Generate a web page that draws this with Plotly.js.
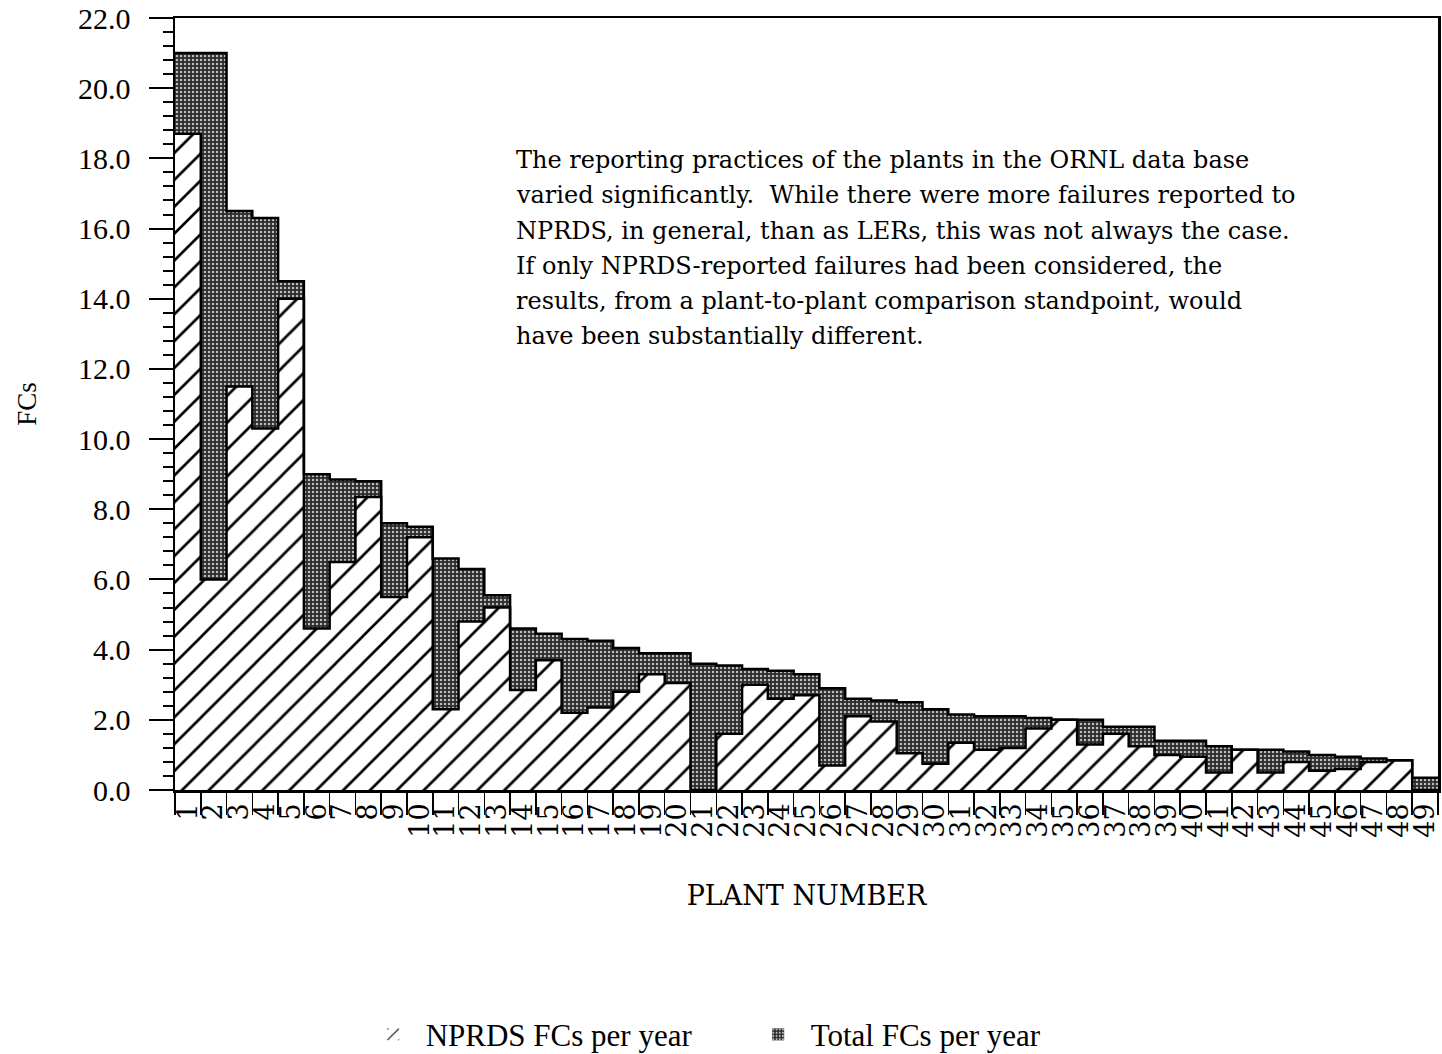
<!DOCTYPE html>
<html>
<head>
<meta charset="utf-8">
<script src="https://cdn.plot.ly/plotly-3.0.1.min.js"></script>
<style>
  html, body { margin: 0; padding: 0; background: #fff; }
  #chart { width: 1442px; height: 1054px; }
</style>
</head>
<body>
<div id="chart"></div>
<script>
// ---- Data ----
const plants = [1,2,3,4,5,6,7,8,9,10,11,12,13,14,15,16,17,18,19,20,21,22,23,24,25,
                26,27,28,29,30,31,32,33,34,35,36,37,38,39,40,41,42,43,44,45,46,47,48,49];
const totalFCs = [21.0, 21.0, 16.5, 16.3, 14.5, 9.0, 8.85, 8.8, 7.6, 7.5,
                  6.6, 6.3, 5.55, 4.6, 4.45, 4.3, 4.25, 4.05, 3.9, 3.9,
                  3.6, 3.55, 3.45, 3.4, 3.3, 2.9, 2.6, 2.55, 2.5, 2.3,
                  2.15, 2.1, 2.1, 2.05, 1.95, 2.0, 1.8, 1.8, 1.4, 1.4,
                  1.25, 1.1, 1.15, 1.1, 1.0, 0.95, 0.9, 0.85, 0.35];
const nprdsFCs = [18.7, 6.0, 11.5, 10.3, 14.0, 4.6, 6.5, 8.35, 5.5, 7.2,
                  2.3, 4.8, 5.2, 2.85, 3.7, 2.2, 2.35, 2.8, 3.3, 3.05,
                  0, 1.6, 3.0, 2.6, 2.7, 0.7, 2.1, 1.95, 1.05, 0.75,
                  1.35, 1.15, 1.2, 1.75, 2.0, 1.3, 1.6, 1.25, 1.0, 0.95,
                  0.5, 1.15, 0.5, 0.8, 0.55, 0.6, 0.8, 0.85, 0];
const tickLabels = plants.map(String);
const yTicks = [0, 2, 4, 6, 8, 10, 12, 14, 16, 18, 20, 22];
const noteLines = [
  "The reporting practices of the plants in the ORNL data base",
  "varied significantly.  While there were more failures reported to",
  "NPRDS, in general, than as LERs, this was not always the case.",
  "If only NPRDS-reported failures had been considered, the",
  "results, from a plant-to-plant comparison standpoint, would",
  "have been substantially different."
];

// ---- Derived outline profiles (step lines along bar edges) ----
const edges = plants.map(p => p - 0.5).concat([plants[plants.length - 1] + 0.5]);
const outer = plants.map((p, i) => Math.max(totalFCs[i], nprdsFCs[i]));
const outerStep = outer.concat([outer[outer.length - 1]]);
const nprdsStep = nprdsFCs.concat([nprdsFCs[nprdsFCs.length - 1]]);

const serif = "Liberation Serif, Times New Roman, serif";
const wideSerif = "DejaVu Serif, serif";

const traces = [
  {
    type: 'bar', name: 'Total FCs per year', x: plants, y: totalFCs, width: 1,
    legendrank: 2,
    marker: {
      color: '#333333',
      line: { width: 0 },
      pattern: { shape: '.', fgcolor: '#bdbdbd', bgcolor: '#2c2c2c', size: 4, solidity: 0.3, fillmode: 'replace' }
    },
    hoverinfo: 'x+y'
  },
  {
    type: 'bar', name: 'NPRDS FCs per year', x: plants, y: nprdsFCs, width: 1,
    legendrank: 1,
    marker: {
      color: 'white',
      line: { width: 0 },
      pattern: { shape: '/', fgcolor: 'black', bgcolor: 'white', size: 19, solidity: 0.14, fillmode: 'replace' }
    },
    hoverinfo: 'x+y'
  },
  {
    type: 'scatter', mode: 'lines', x: edges, y: outerStep,
    line: { shape: 'hv', color: 'black', width: 2.5 },
    showlegend: false, hoverinfo: 'skip'
  },
  {
    type: 'scatter', mode: 'lines', x: edges, y: nprdsStep,
    line: { shape: 'hv', color: 'black', width: 2.5 },
    showlegend: false, hoverinfo: 'skip'
  }
];

// Note paragraph: one annotation per line, 35 px apart
const plotH = 1054 - 18 - 264;
const annotations = noteLines.map((t, i) => ({
  xref: 'paper', yref: 'paper',
  x: 0.2685, y: 0.8365 - i * (35.2 / plotH),
  xanchor: 'left', yanchor: 'top', align: 'left', showarrow: false,
  text: t,
  font: { family: wideSerif, size: 24, color: 'black' }
}));

const layout = {
  width: 1442, height: 1054,
  margin: { l: 175, r: 4, t: 18, b: 264, autoexpand: false },
  paper_bgcolor: 'white', plot_bgcolor: 'white',
  barmode: 'overlay', bargap: 0,
  showlegend: true,
  font: { family: serif, color: 'black', size: 24 },
  xaxis: {
    type: 'linear',
    range: [0.5, 49.5],
    automargin: false,
    tickmode: 'array', tickvals: plants, ticktext: tickLabels,
    tickangle: -90, ticks: '', ticklen: 0,
    ticklabeloverflow: 'allow',
    tickfont: { family: wideSerif, size: 27, color: 'black' },
    minor: { tickmode: 'linear', tick0: 0.5, dtick: 1, ticks: 'outside', ticklen: 22, tickwidth: 1.5, tickcolor: 'black', showgrid: false },
    showline: true, linecolor: 'black', linewidth: 2.5, mirror: true,
    showgrid: false, zeroline: false,
    title: { text: 'PLANT NUMBER', font: { family: wideSerif, size: 27, color: 'black' }, standoff: 50 },
    fixedrange: true
  },
  yaxis: {
    range: [0, 22],
    automargin: false,
    tickmode: 'array', tickvals: yTicks, tickformat: '.1f',
    ticks: 'outside', ticklen: 24, tickwidth: 2, tickcolor: 'black',
    ticklabelstandoff: 12,
    tickfont: { family: serif, size: 30, color: 'black' },
    minor: { tickmode: 'linear', tick0: 0, dtick: 0.4, ticks: 'outside', ticklen: 10, tickwidth: 2, tickcolor: 'black', showgrid: false },
    showline: true, linecolor: 'black', linewidth: 2.5, mirror: true,
    showgrid: false, zeroline: false,
    title: { text: 'FCs', font: { family: serif, size: 27, color: 'black' }, standoff: 34 },
    fixedrange: true
  },
  legend: {
    orientation: 'h',
    x: 0.147, xanchor: 'left',
    y: -0.317, yanchor: 'middle',
    font: { family: serif, size: 31, color: 'black' },
    bgcolor: 'rgba(0,0,0,0)',
    traceorder: 'normal',
    itemwidth: 55,
    entrywidth: 315, entrywidthmode: 'pixels'
  },
  annotations: annotations
};

Plotly.newPlot('chart', traces, layout, { displayModeBar: false, staticPlot: true });
</script>
</body>
</html>
